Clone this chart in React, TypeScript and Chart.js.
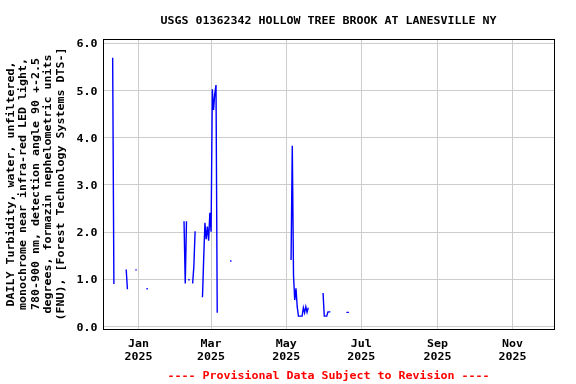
import React, { useEffect, useRef } from "react";
import { Chart, registerables } from "chart.js";

Chart.register(...registerables);

// ---- Text ----
const TITLE = "USGS 01362342 HOLLOW TREE BROOK AT LANESVILLE NY";
const Y_TITLE_LINES = [
  "DAILY Turbidity, water, unfiltered,",
  "monochrome near infra-red LED light,",
  "780-900 nm, detection angle 90 +-2.5",
  "degrees, formazin nephelometric units",
  "(FNU), [Forest Technology Systems DTS-]",
];
const FOOTER = "---- Provisional Data Subject to Revision ----";

// ---- Axis ticks ----
const Y_TICKS = [0, 1, 2, 3, 4, 5, 6];
// days since 2025-01-01
const X_TICK_DAYS = [0, 59, 120, 181, 243, 304];
const X_TICK_MONTHS = ["Jan", "Mar", "May", "Jul", "Sep", "Nov"];
const X_TICK_YEARS = ["2025", "2025", "2025", "2025", "2025", "2025"];

// ---- Data: day offset from 2025-01-01 and daily turbidity (FNU) ----
const DAYS = [
  -21, -20, -10, -9, -2, 7,
  37, 38, 39, 41, 44, 45, 46,
  52, 53, 54, 55, 56, 57, 58, 59, 60, 61, 62, 63, 64,
  75,
  124, 125, 126, 127, 128, 129, 130, 131, 132, 133, 134, 135, 136, 137, 138,
  150, 151, 152, 153, 154, 155, 156,
  169, 170, 171,
];
const VALUES = [
  5.7, 0.9, 1.21, 0.79, 1.2, 0.8,
  2.23, 0.91, 2.23, 0.99, 0.91, 1.28, 2.02,
  0.62, 1.45, 2.2, 1.85, 2.12, 1.82, 2.41, 2.01, 5.03, 4.59, 4.94, 5.12, 0.29,
  1.39,
  1.41, 3.83, 1.08, 0.56, 0.81, 0.42, 0.22, 0.22, 0.22, 0.22, 0.4, 0.29, 0.42, 0.3, 0.4,
  0.71, 0.22, 0.22, 0.22, 0.31, 0.31, 0.31,
  0.3, 0.3, 0.3,
];

const X_MIN = -28.855;
const X_MAX = 337.72;
const Y_MIN = -0.053;
const Y_MAX = 6.095;

const FONT = "bold 10px 'DejaVu Sans Mono'";
const SX = 1.163;

function drawText(
  ctx: CanvasRenderingContext2D,
  text: string,
  x: number,
  y: number,
  align: CanvasTextAlign,
  color: string,
  rotate = false
) {
  ctx.save();
  ctx.translate(x, y);
  if (rotate) ctx.rotate(-Math.PI / 2);
  ctx.scale(SX, 1);
  ctx.font = FONT;
  ctx.textAlign = align;
  ctx.textBaseline = "alphabetic";
  ctx.fillStyle = color;
  ctx.fillText(text, 0, 0);
  ctx.restore();
}

const decorPlugin = {
  id: "decor",
  afterDraw(chart: any) {
    const ctx: CanvasRenderingContext2D = chart.ctx;
    const a = chart.chartArea;
    const xs = chart.scales.x;
    const ys = chart.scales.y;
    const cx = (a.left + a.right) / 2;
    // frame
    ctx.save();
    ctx.strokeStyle = "#000000";
    ctx.lineWidth = 1;
    ctx.strokeRect(a.left + 0.5, a.top + 0.5, a.right - a.left, a.bottom - a.top);
    ctx.restore();
    // title
    drawText(ctx, TITLE, cx, 24, "center", "#000000");
    // y tick labels
    Y_TICKS.forEach((v) => {
      const py = ys.getPixelForValue(v);
      drawText(ctx, v.toFixed(1), 97.5, Math.round(py) + 3.5, "right", "#000000");
    });
    // x tick labels
    X_TICK_DAYS.forEach((d, i) => {
      const px = xs.getPixelForValue(d);
      drawText(ctx, X_TICK_MONTHS[i], px, 347, "center", "#000000");
      drawText(ctx, X_TICK_YEARS[i], px, 360, "center", "#000000");
    });
    // y axis title
    const midY = (a.top + a.bottom) / 2;
    Y_TITLE_LINES.forEach((line, i) => {
      drawText(ctx, line, 13.5 + i * 12.5, midY, "center", "#000000", true);
    });
    // footer
    drawText(ctx, FOOTER, cx, 378.5, "center", "#ff0000");
  },
};

export default function App() {
  const ref = useRef<HTMLCanvasElement | null>(null);

  useEffect(() => {
    if (!ref.current) return;
    const points: { x: number; y: number | null }[] = [];
    const isolated: boolean[] = [];
    for (let i = 0; i < DAYS.length; i++) {
      if (i > 0 && DAYS[i] - DAYS[i - 1] > 1) {
        points.push({ x: DAYS[i - 1] + 0.5, y: null });
        isolated.push(false);
      }
      const prevAdj = i > 0 && DAYS[i] - DAYS[i - 1] === 1;
      const nextAdj = i < DAYS.length - 1 && DAYS[i + 1] - DAYS[i] === 1;
      points.push({ x: DAYS[i], y: VALUES[i] });
      isolated.push(!prevAdj && !nextAdj);
    }

    const gridCommon = {
      color: "#cccccc",
      lineWidth: 1,
      drawTicks: false,
    };

    const chart = new Chart(ref.current, {
      type: "line",
      data: {
        datasets: [
          {
            data: points as any,
            borderColor: "#0000ff",
            borderWidth: 1.4,
            tension: 0,
            spanGaps: false,
            pointStyle: "rect",
            pointRadius: (c: any) => (isolated[c.dataIndex] ? 1 : 0),
            pointBackgroundColor: "#0000ff",
            pointBorderWidth: 0,
            pointHoverRadius: 0,
          },
        ],
      },
      options: {
        animation: false,
        responsive: false,
        devicePixelRatio: 1,
        events: [],
        layout: { padding: { left: 103, top: 39, right: 22, bottom: 55 } },
        plugins: {
          legend: { display: false },
          tooltip: { enabled: false },
          title: { display: false },
        },
        scales: {
          x: {
            type: "linear",
            min: X_MIN,
            max: X_MAX,
            afterBuildTicks: (s: any) => {
              s.ticks = X_TICK_DAYS.map((v) => ({ value: v }));
            },
            afterFit: (s: any) => {
              s.height = 0;
            },
            ticks: { display: false },
            grid: gridCommon,
            border: { display: false },
          },
          y: {
            type: "linear",
            min: Y_MIN,
            max: Y_MAX,
            afterBuildTicks: (s: any) => {
              s.ticks = Y_TICKS.map((v) => ({ value: v }));
            },
            afterFit: (s: any) => {
              s.width = 0;
            },
            ticks: { display: false },
            grid: gridCommon,
            border: { display: false },
          },
        },
      } as any,
      plugins: [decorPlugin],
    });
    return () => chart.destroy();
  }, []);

  return (
    <div style={{ position: "fixed", left: 0, top: 0, width: 576, height: 384, background: "#ffffff" }}>
      <canvas ref={ref} width={576} height={384} style={{ display: "block" }} />
    </div>
  );
}
